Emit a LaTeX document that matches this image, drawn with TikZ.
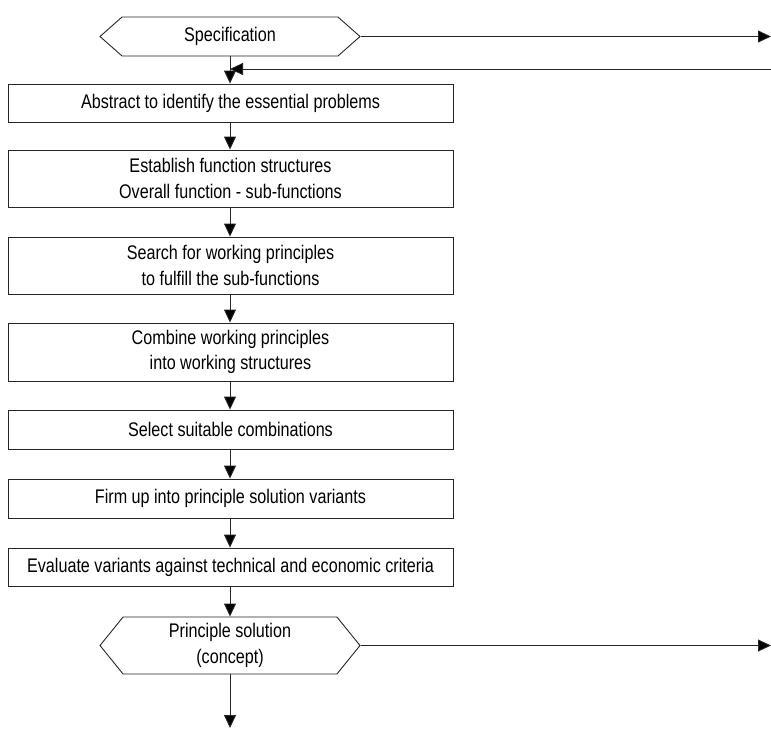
\documentclass[tikz,border=0pt]{standalone}
\usepackage{fontspec}
\setmainfont[FakeStretch=0.82]{Liberation Sans}
\usepackage{tikz}
\usetikzlibrary{arrows.meta,shapes.symbols}
\definecolor{border}{HTML}{262626}
\definecolor{ink}{HTML}{000000}
\tikzset{
  stepbox/.style={draw=border, line width=0.9pt, minimum width=445pt, inner sep=0pt,
    align=center, text=ink, font=\fontsize{19.7}{25.5}\selectfont},
  hexbox/.style={signal, signal to=west and east, draw=border, line width=0.9pt,
    minimum width=260pt, inner xsep=0pt, inner ysep=0pt, align=center, text=ink,
    font=\fontsize{19.7}{25.5}\selectfont},
  flow/.style={-{Triangle[width=12pt,length=13pt,fill=ink]}, line width=0.9pt, draw=border}
}

\begin{document}
\begin{tikzpicture}[x=1pt,y=-1pt]
  \useasboundingbox (0,0) rectangle (771,729);

  \node[hexbox, minimum height=39pt, signal pointer angle=83] (spec) at (230,36.5) {Specification};

  \node[stepbox, minimum height=38pt] (box1) at (230.5,103) {Abstract to identify the essential problems};
  \node[stepbox, minimum height=57pt] (box2) at (230.5,178.5) {Establish function structures\\Overall function - sub-functions};
  \node[stepbox, minimum height=57pt] (box3) at (230.5,265.5) {Search for working principles\\to fulfill the sub-functions};
  \node[stepbox, minimum height=58pt] (box4) at (230.5,352) {Combine working principles\\into working structures};
  \node[stepbox, minimum height=39pt] (box5) at (230.5,429.5) {Select suitable combinations};
  \node[stepbox, minimum height=39pt] (box6) at (230.5,498.5) {Firm up into principle solution variants};
  \node[stepbox, minimum height=38pt] (box7) at (230.5,567) {Evaluate variants against technical and economic criteria};

  \node[hexbox, minimum height=57pt, signal pointer angle=102] (sol) at (230,645.5) {Principle solution\\(concept)};

  \coordinate (specout) at (771,38);
  \coordinate (fbin) at (771,69);
  \coordinate (solout) at (771,644);
  \coordinate (sink) at (229,728);

  % main flow
  \draw[flow] (spec.south) -- (spec.south |- box1.north);
  \foreach \a/\b in {box1/box2,box2/box3,box3/box4,box4/box5,box5/box6,box6/box7}
    \draw[flow] (\a.south -| spec.south) -- (\b.north -| spec.south);
  \draw[flow] (box7.south -| spec.south) -- (sol.north);
  \draw[flow] (sol.south) -- (sol.south |- sink);

  % side arrows
  \draw[flow] (spec.east) -- (spec.east -| specout);
  \draw[flow] (fbin) -- (fbin -| spec.south);
  \draw[flow] (sol.east) -- (sol.east -| solout);
\end{tikzpicture}
\end{document}
